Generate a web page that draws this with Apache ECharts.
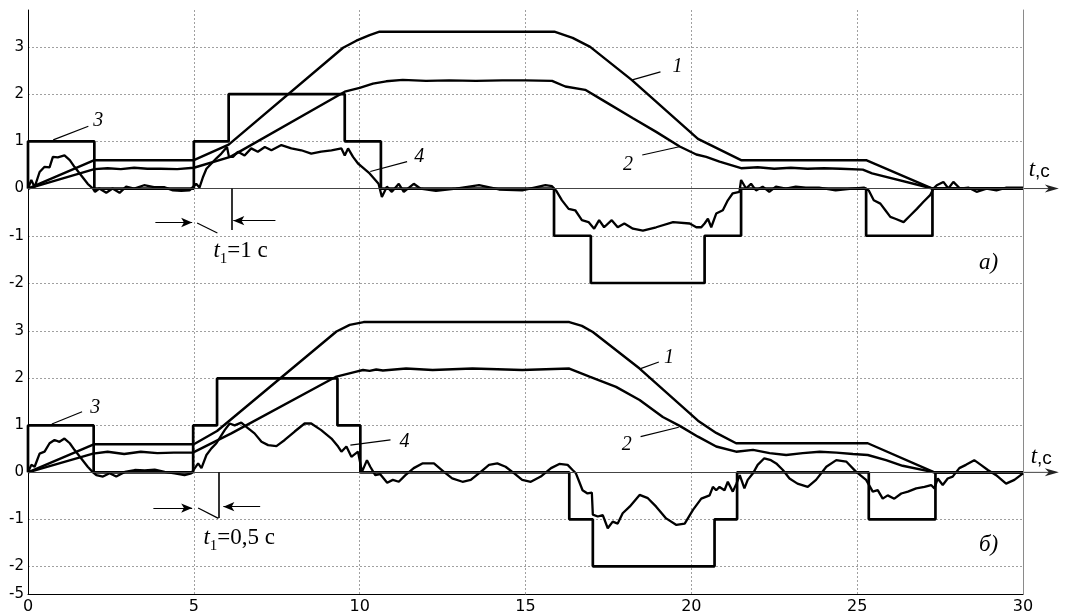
<!DOCTYPE html>
<html>
<head>
<meta charset="utf-8">
<script src="https://cdn.jsdelivr.net/npm/echarts@6.0.0/dist/echarts.min.js"></script>
<style>
html, body { margin: 0; padding: 0; background: #fff; }
#chart { width: 1066px; height: 616px; }
</style>
</head>
<body>
<div id="chart"></div>
<script>
// ---- data (t in s, level in units) ----
const levelTicks = [-2, -1, 0, 1, 2, 3]
const bottomMinLabel = '-5'
const timeStep = 5

// panel a) t1 = 1 s
const topCurve1 = [[0,0],[2,0.6],[5,0.6],[6.05,0.93],[9.5,2.98],[9.9,3.13],[10.3,3.25],[10.6,3.32],[15.87,3.32],[16.42,3.19],[16.95,3.0],[18.2,2.3],[20.2,1.05],[21.5,0.6],[25.27,0.6],[27.27,0],[30,0]]
const topCurve2 = [[0,0],[2,0.41],[2.4,0.43],[2.8,0.41],[3.2,0.44],[3.6,0.42],[4.0,0.42],[4.5,0.41],[5,0.44],[6.1,0.67],[9.55,2.05],[10.0,2.13],[10.4,2.22],[10.8,2.27],[11.3,2.3],[12,2.28],[12.7,2.29],[13.5,2.28],[14.3,2.29],[15,2.29],[15.8,2.28],[16.2,2.16],[16.8,2.09],[17.4,1.84],[18.24,1.49],[18.94,1.2],[19.65,0.89],[20.15,0.72],[20.45,0.67],[20.85,0.57],[21.5,0.43],[22,0.45],[22.5,0.42],[23,0.44],[23.5,0.42],[24,0.43],[24.5,0.42],[25.17,0.4],[25.45,0.32],[27.27,0],[30,0]]
const topCurve3 = [[0,0],[0,1],[2,0],[5,1],[6.05,2],[9.55,1],[10.64,0],[15.86,-1],[16.97,-2],[20.4,-1],[21.5,0],[25.27,-1],[27.27,0],[30,0]]
const topCurve4 = [[0,0],[0.1,0.18],[0.2,0.03],[0.35,0.35],[0.5,0.46],[0.65,0.45],[0.75,0.67],[0.9,0.66],[1.1,0.7],[1.26,0.6],[1.4,0.46],[1.6,0.28],[1.8,0.1],[1.96,0],[2.02,-0.07],[2.15,0.0],[2.36,-0.09],[2.55,0.0],[2.76,-0.09],[2.96,0.04],[3.2,0.0],[3.5,0.07],[3.8,0.03],[4.1,0.03],[4.37,-0.04],[4.62,-0.05],[4.87,-0.04],[4.97,0.03],[5.07,0.1],[5.17,0.02],[5.28,0.25],[5.38,0.42],[5.53,0.53],[5.68,0.64],[5.83,0.74],[6.0,0.88],[6.06,0.67],[6.18,0.67],[6.33,0.78],[6.53,0.7],[6.73,0.85],[6.93,0.78],[7.14,0.88],[7.34,0.81],[7.64,0.92],[7.94,0.85],[8.24,0.81],[8.54,0.74],[8.84,0.78],[9.15,0.81],[9.45,0.85],[9.55,0.7],[9.65,0.85],[9.8,0.67],[9.95,0.53],[10.07,0.46],[10.3,0.32],[10.57,0.1],[10.67,-0.18],[10.82,0.04],[10.97,-0.07],[11.18,0.1],[11.33,-0.07],[11.63,0.1],[11.83,0],[12.3,-0.05],[12.9,0],[13.6,0.07],[14.2,-0.02],[14.9,-0.04],[15.6,0.07],[15.8,0.05],[15.92,-0.04],[16.1,-0.25],[16.3,-0.43],[16.5,-0.46],[16.7,-0.67],[16.9,-0.71],[17.07,-0.85],[17.22,-0.67],[17.37,-0.82],[17.6,-0.67],[17.78,-0.82],[17.98,-0.74],[18.24,-0.85],[18.54,-0.89],[18.94,-0.82],[19.45,-0.71],[19.95,-0.74],[20.15,-0.82],[20.3,-0.82],[20.4,-0.74],[20.5,-0.64],[20.6,-0.82],[20.75,-0.53],[20.95,-0.46],[21.1,-0.25],[21.25,-0.1],[21.45,-0.07],[21.5,0.18],[21.65,0],[21.8,0.1],[21.95,-0.04],[22.15,0.04],[22.35,-0.07],[22.55,0.04],[22.85,0],[23.15,0.04],[23.45,0.02],[23.85,0.02],[24.35,-0.04],[24.85,0],[25.2,0.02],[25.35,-0.04],[25.5,-0.25],[25.7,-0.32],[25.85,-0.46],[26.0,-0.6],[26.15,-0.64],[26.4,-0.71],[26.6,-0.57],[26.8,-0.43],[27.0,-0.28],[27.2,-0.14],[27.3,0],[27.4,0.07],[27.6,0.14],[27.75,0],[27.9,0.14],[28.1,0],[28.35,0.02],[28.6,-0.07],[28.9,0],[29.2,-0.04],[29.5,0.02],[29.9,0.02],[30,0.02]]

// panel б) t1 = 0,5 s
const botCurve1 = [[0,0],[2,0.6],[5,0.6],[5.7,0.88],[9.3,3.0],[9.7,3.14],[10.12,3.2],[16.32,3.2],[16.7,3.12],[17.03,2.99],[18.44,2.21],[20.2,1.1],[20.75,0.84],[21.35,0.62],[25.32,0.62],[27.33,0],[30,0]]
const botCurve2 = [[0,0],[1.96,0.4],[2.4,0.44],[2.9,0.39],[3.4,0.44],[3.9,0.41],[4.4,0.42],[4.97,0.42],[6.13,0.83],[9.3,2.04],[9.87,2.14],[10.1,2.18],[10.3,2.16],[10.5,2.19],[10.7,2.17],[11.4,2.21],[12.2,2.18],[13.4,2.21],[14.9,2.18],[16.32,2.21],[16.93,2.04],[17.73,1.82],[18.44,1.54],[19.14,1.18],[19.65,0.99],[20.2,0.76],[20.75,0.55],[21.35,0.44],[21.86,0.48],[22.36,0.41],[22.86,0.37],[23.36,0.41],[23.87,0.44],[24.37,0.42],[24.87,0.39],[25.32,0.37],[25.87,0.26],[26.37,0.14],[27.33,0],[30,0]]
const botCurve3 = [[0,0],[0,1],[1.98,0],[4.98,1],[5.7,2],[9.33,1],[10.02,0],[16.32,-1],[17.03,-2],[20.7,-1],[21.38,0],[25.35,-1],[27.36,0],[30,0]]
const botCurve4 = [[0,0],[0.1,0.16],[0.2,0.12],[0.35,0.4],[0.5,0.44],[0.65,0.62],[0.8,0.69],[0.95,0.65],[1.1,0.72],[1.26,0.62],[1.4,0.48],[1.6,0.3],[1.8,0.12],[1.96,0],[2.06,-0.06],[2.26,-0.09],[2.46,-0.02],[2.66,-0.09],[2.92,0.01],[3.22,0.05],[3.52,0.04],[3.82,0.06],[4.12,0.01],[4.42,-0.02],[4.72,-0.06],[4.92,-0.02],[5.03,0.09],[5.13,0.19],[5.23,0.09],[5.38,0.37],[5.53,0.51],[5.68,0.62],[5.83,0.79],[5.93,0.9],[6.08,1.04],[6.23,1.0],[6.43,1.06],[6.63,0.94],[6.83,0.83],[7.04,0.65],[7.24,0.58],[7.49,0.56],[7.74,0.69],[8.04,0.87],[8.34,1.04],[8.54,1.04],[8.84,0.9],[9.15,0.72],[9.35,0.55],[9.45,0.44],[9.6,0.55],[9.75,0.33],[9.95,0.44],[10.07,0.01],[10.22,0.26],[10.32,0.12],[10.47,-0.06],[10.62,-0.04],[10.83,-0.22],[11.0,-0.16],[11.18,-0.2],[11.38,-0.06],[11.63,0.09],[11.89,0.19],[12.24,0.19],[12.54,0.01],[12.79,-0.13],[13.1,-0.2],[13.35,-0.16],[13.65,0.01],[13.9,0.16],[14.15,0.19],[14.4,0.12],[14.66,-0.02],[14.9,-0.16],[15.16,-0.2],[15.46,-0.09],[15.77,0.09],[16.02,0.18],[16.27,0.16],[16.42,0.05],[16.52,-0.02],[16.62,-0.2],[16.72,-0.38],[16.87,-0.45],[17.0,-0.43],[17.03,-0.9],[17.18,-0.94],[17.33,-0.91],[17.48,-1.19],[17.63,-1.05],[17.78,-1.09],[17.93,-0.87],[18.14,-0.73],[18.44,-0.48],[18.69,-0.55],[18.94,-0.73],[19.24,-0.98],[19.55,-1.12],[19.8,-1.09],[20.05,-0.8],[20.3,-0.56],[20.55,-0.49],[20.65,-0.31],[20.75,-0.38],[20.85,-0.31],[21.0,-0.38],[21.1,-0.2],[21.25,-0.41],[21.36,-0.24],[21.46,-0.06],[21.6,-0.34],[21.7,-0.16],[21.86,-0.02],[22.0,0.16],[22.2,0.3],[22.4,0.26],[22.56,0.19],[22.76,0.05],[22.96,-0.13],[23.2,-0.24],[23.51,-0.31],[23.76,-0.16],[24.07,0.12],[24.37,0.26],[24.67,0.23],[24.97,0.01],[25.27,-0.16],[25.47,-0.41],[25.62,-0.38],[25.77,-0.56],[25.92,-0.49],[26.12,-0.56],[26.33,-0.45],[26.53,-0.41],[26.78,-0.34],[27.03,-0.31],[27.23,-0.27],[27.33,-0.34],[27.43,-0.13],[27.58,-0.27],[27.73,-0.13],[27.88,-0.09],[28.08,0.09],[28.28,0.16],[28.53,0.26],[28.73,0.16],[28.94,0.05],[29.19,-0.06],[29.49,-0.24],[29.74,-0.16],[30,-0.02]]

// ---- chart ----
const chart = echarts.init(document.getElementById('chart'))

const gridLine = { color: '#a0a0a0', type: [2, 2], width: 1 }
const serif = 'Liberation Serif, Times New Roman, serif'
const sans = 'DejaVu Sans, sans-serif'

const yAxisBase = (gi, min, max, labels, fmt) => ({
  type: 'value',
  gridIndex: gi,
  min: min,
  max: max,
  axisLine: { show: true, onZero: false, lineStyle: { color: '#000', width: 1 } },
  axisTick: { show: false, customValues: levelTicks },
  axisLabel: { customValues: labels, color: '#000', fontFamily: sans, fontSize: 15, margin: 4, formatter: fmt },
  splitLine: { show: true, lineStyle: gridLine },
})

const rightBorder = (gi, min, max) => ({
  type: 'value',
  gridIndex: gi,
  position: 'right',
  min: min,
  max: max,
  axisLine: { show: true, onZero: false, lineStyle: { color: '#8a8a8a', width: 1 } },
  axisTick: { show: false },
  axisLabel: { show: false },
  splitLine: { show: false },
})

const curve = (data, gi, extra) => Object.assign({
  type: 'line',
  xAxisIndex: gi,
  yAxisIndex: gi,
  data: data,
  symbol: 'none',
  silent: true,
  lineStyle: { color: '#000', width: 2.4 },
  z: 3,
}, extra || {})

const seg = (a, b, opts) => [Object.assign({ coord: a }, opts && opts.start), Object.assign({ coord: b }, opts && opts.end)]
const arrowEnd = { end: { symbol: 'arrow', symbolSize: [7, 11] } }
const tag = (at, text, extra) => ({ coord: at, label: Object.assign({ formatter: text }, extra || {}) })

const subRich = {
  i: { fontFamily: serif, fontStyle: 'italic', fontSize: 23, color: '#000', lineHeight: 26, verticalAlign: 'bottom' },
  s: { fontFamily: serif, fontStyle: 'normal', fontSize: 15, color: '#000', lineHeight: 26, verticalAlign: 'bottom', padding: [0, 0, -4, 0] },
  n: { fontFamily: serif, fontStyle: 'normal', fontSize: 23, color: '#000', lineHeight: 26, verticalAlign: 'bottom' },
  c: { fontFamily: 'Liberation Sans, Arial, sans-serif', fontStyle: 'normal', fontSize: 19, color: '#000', lineHeight: 26, verticalAlign: 'bottom' },
}

const notes = (gi, p) => ({
  type: 'line',
  xAxisIndex: gi,
  yAxisIndex: gi,
  data: [],
  clip: false,
  silent: true,
  markLine: {
    silent: true,
    animation: false,
    symbol: ['none', 'none'],
    label: { show: false },
    emphasis: { disabled: true },
    lineStyle: { color: '#000', width: 1.2, type: 'solid' },
    data: [
      seg([0, 0], [30, 0], { start: { lineStyle: { color: '#444', width: 1 } } }),
      seg(p.lead3[0], p.lead3[1]),
      seg(p.lead4[0], p.lead4[1]),
      seg(p.lead1[0], p.lead1[1]),
      seg(p.lead2[0], p.lead2[1]),
      seg(p.arrL[0], p.arrL[1], arrowEnd),
      seg(p.arrR[0], p.arrR[1], arrowEnd),
      seg(p.slant[0], p.slant[1]),
      seg(p.vert[0], p.vert[1], { start: { lineStyle: { color: '#000', width: 1.6 } } }),
    ],
  },
  markPoint: {
    silent: true,
    animation: false,
    symbol: 'circle',
    symbolSize: 0,
    label: { show: true, position: 'inside', color: '#000', fontFamily: serif, fontStyle: 'italic', fontSize: 20 },
    data: [
      tag(p.tag3, '3'),
      tag(p.tag4, '4'),
      tag(p.tag1, '1'),
      tag(p.tag2, '2'),
      tag(p.panel, p.panelText, { fontSize: 23 }),
      tag(p.t1, p.t1Text, { position: 'right', distance: 0, rich: subRich }),
    ],
  },
})

const topNotes = {
  lead3: [[0.76, 1.03], [1.82, 1.32]], tag3: [2.12, 1.43],
  lead4: [[10.32, 0.36], [11.43, 0.57]], tag4: [11.8, 0.67],
  lead1: [[18.22, 2.3], [19.07, 2.47]], tag1: [19.58, 2.57],
  lead2: [[18.52, 0.71], [19.67, 0.89]], tag2: [18.09, 0.51],
  arrL: [[3.84, -0.72], [4.95, -0.72]], arrR: [[7.46, -0.68], [6.19, -0.68]],
  slant: [[5.1, -0.73], [5.71, -0.94]], vert: [[6.15, 0], [6.15, -0.88]],
  t1: [5.59, -1.3], t1Text: '{i|t}{s|1}{n|=1 c}',
  panel: [28.96, -1.58], panelText: 'а)',
}
const botNotes = {
  lead3: [[0.72, 1.03], [1.63, 1.29]], tag3: [2.03, 1.38],
  lead4: [[9.72, 0.58], [10.93, 0.69]], tag4: [11.35, 0.66],
  lead1: [[18.47, 2.21], [19.02, 2.35]], tag1: [19.33, 2.44],
  lead2: [[18.47, 0.76], [19.62, 0.96]], tag2: [18.05, 0.59],
  arrL: [[3.78, -0.76], [4.95, -0.76]], arrR: [[7.0, -0.73], [5.89, -0.73]],
  slant: [[5.13, -0.76], [5.74, -0.98]], vert: [[5.75, 0], [5.75, -0.97]],
  t1: [5.29, -1.36], t1Text: '{i|t}{s|1}{n|=0,5 c}',
  panel: [28.96, -1.55], panelText: 'б)',
}

const topMin = -2.36, topMax = 3.78
const botMin = -2.59, botMax = 3.67

const option = {
  backgroundColor: '#fff',
  animation: false,
  grid: [
    { left: 28, right: 43, top: 10, height: 290, outerBoundsMode: 'none' },
    { left: 28, right: 43, top: 300, height: 294, outerBoundsMode: 'none' },
  ],
  xAxis: [
    {
      type: 'value', gridIndex: 0, min: 0, max: 30, interval: timeStep,
      axisLine: { show: false }, axisTick: { show: false }, axisLabel: { show: false },
      splitLine: { show: true, lineStyle: gridLine },
    },
    {
      type: 'value', gridIndex: 1, min: 0, max: 30, interval: timeStep,
      axisLine: { show: true, onZero: false, lineStyle: { color: '#000', width: 1 } },
      axisTick: { show: false },
      axisLabel: { color: '#000', fontFamily: sans, fontSize: 16, margin: 5 },
      splitLine: { show: true, lineStyle: gridLine },
    },
  ],
  yAxis: [
    yAxisBase(0, topMin, topMax, levelTicks),
    yAxisBase(1, botMin, botMax, [botMin].concat(levelTicks), (v) => (v < -2.5 ? bottomMinLabel : String(v))),
    rightBorder(0, topMin, topMax),
    rightBorder(1, botMin, botMax),
  ],
  series: [
    notes(0, topNotes),
    curve(topCurve1, 0),
    curve(topCurve2, 0),
    curve(topCurve3, 0, { step: 'end', lineStyle: { color: '#000', width: 2.7 } }),
    curve(topCurve4, 0, { lineStyle: { color: '#000', width: 2.3 } }),
    notes(1, botNotes),
    curve(botCurve1, 1),
    curve(botCurve2, 1),
    curve(botCurve3, 1, { step: 'end', lineStyle: { color: '#000', width: 2.7 } }),
    curve(botCurve4, 1, { lineStyle: { color: '#000', width: 2.3 } }),
  ],
}

chart.setOption(option)

// t-axis arrow and its name sit past t = 30, outside the axis range,
// so place them through the grid's own scale after layout
const axisArrow = (gi, nameAt) => {
  const a = chart.convertToPixel({ gridIndex: gi }, [30, 0])
  const b = chart.convertToPixel({ gridIndex: gi }, [31.08, 0])
  const n = chart.convertToPixel({ gridIndex: gi }, nameAt)
  return [
    { type: 'line', silent: true, shape: { x1: a[0], y1: a[1], x2: b[0] - 4, y2: b[1] }, style: { stroke: '#444', lineWidth: 1 } },
    { type: 'polygon', silent: true, shape: { points: [[b[0] - 14, b[1] - 4], [b[0], b[1]], [b[0] - 14, b[1] + 4], [b[0] - 10, b[1]]] }, style: { fill: '#222' } },
    {
      type: 'text', silent: true, x: n[0], y: n[1],
      style: { text: '{i|t}{c|,c}', rich: subRich, verticalAlign: 'middle', align: 'left' },
    },
  ]
}

chart.setOption({ graphic: axisArrow(0, [30.17, 0.43]).concat(axisArrow(1, [30.23, 0.37])) })
window.addEventListener('resize', () => chart.resize())
</script>
</body>
</html>
